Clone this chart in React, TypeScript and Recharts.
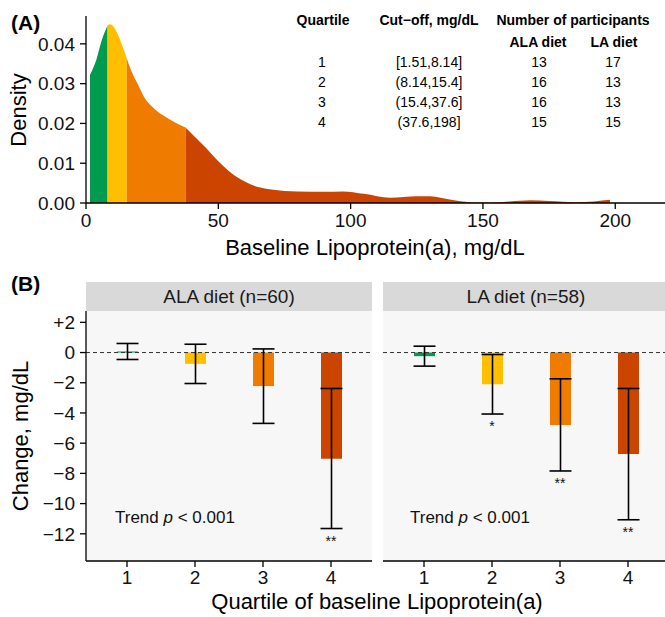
import React from "react";
import {
  ComposedChart,
  Area,
  Bar,
  Line,
  Cell,
  XAxis,
  YAxis,
  ErrorBar,
  ReferenceLine,
  CartesianGrid,
  LabelList,
} from "recharts";

const FONT = "'Liberation Sans', Arial, Helvetica, sans-serif";

// ---- Panel A: density of baseline Lp(a) ----
const lpaX = [1.51, 4, 6, 8.14, 9, 10, 12, 14, 15.4, 17, 20, 22, 25, 27, 30, 33, 37.6, 41, 45, 50, 55, 60, 65, 70, 80, 90, 97, 105, 115, 125, 130, 138, 145, 150, 160, 168, 175, 185, 192, 198];
const lpaDensity = [0.0322, 0.0362, 0.0410, 0.0446, 0.0449, 0.0446, 0.0424, 0.0390, 0.0364, 0.0334, 0.0293, 0.0266, 0.0242, 0.0230, 0.0217, 0.0205, 0.0190, 0.0167, 0.0141, 0.0105, 0.0075, 0.0054, 0.0040, 0.0034, 0.0029, 0.0028, 0.0029, 0.0023, 0.0013, 0.0017, 0.0017, 0.0008, 0.0002, 0.0001, 0.0004, 0.0007, 0.0005, 0.0002, 0.0004, 0.0008];
const cutoffs = [8.14, 15.4, 37.6];
const quartileColors = ["#009B4E", "#FFBE00", "#EF7B00", "#CC4500"];
const densityTicksX = [0, 50, 100, 150, 200];
const densityTicksY = [0, 0.01, 0.02, 0.03, 0.04];

// table
const tableQuartiles = ["1", "2", "3", "4"];
const tableCutoffs = ["[1.51,8.14]", "(8.14,15.4]", "(15.4,37.6]", "(37.6,198]"];
const tableAlaN = [13, 16, 16, 15];
const tableLaN = [17, 13, 13, 15];

// ---- Panel B: change by quartile ----
const quartiles = ["1", "2", "3", "4"];
const alaMean = [0.07, -0.75, -2.22, -7.03];
const alaLow = [-0.46, -2.05, -4.69, -11.65];
const alaHigh = [0.6, 0.55, 0.24, -2.38];
const alaSig = ["", "", "", "**"];
const laMean = [-0.24, -2.1, -4.79, -6.72];
const laLow = [-0.9, -4.07, -7.84, -11.07];
const laHigh = [0.42, -0.13, -1.74, -2.38];
const laSig = ["", "*", "**", "**"];
const changeTicks = [2, 0, -2, -4, -6, -8, -10, -12];

const densityData = lpaX.map((x, i) => {
  const d = lpaDensity[i];
  const eps = 1e-9;
  return {
    x,
    q1: x <= cutoffs[0] + eps ? d : null,
    q2: x >= cutoffs[0] - eps && x <= cutoffs[1] + eps ? d : null,
    q3: x >= cutoffs[1] - eps && x <= cutoffs[2] + eps ? d : null,
    q4: x >= cutoffs[2] - eps ? d : null,
  };
});

const buildPanel = (mean: number[], lo: number[], hi: number[], sig: string[]) =>
  quartiles.map((q, i) => ({
    q,
    mean: mean[i],
    lo: lo[i],
    err: [mean[i] - lo[i], hi[i] - mean[i]],
    sig: sig[i],
  }));

const alaData = buildPanel(alaMean, alaLow, alaHigh, alaSig);
const laData = buildPanel(laMean, laLow, laHigh, laSig);

const tickStyle = { fill: "#111", fontSize: 19, fontFamily: FONT };
const axisLine = { stroke: "#000", strokeWidth: 1.3 };

const fmtChange = (v: number) => (v > 0 ? `+${v}` : v < 0 ? `\u2212${Math.abs(v)}` : "0");

const StarLabel = (p: any) => {
  if (!p.value) return null;
  return (
    <text x={p.x} y={p.y + 17} textAnchor="middle" fontSize={14} fontFamily={FONT} fill="#111">
      {p.value}
    </text>
  );
};

const ChangePanel = ({ data, showY }: { data: any[]; showY: boolean }) => (
  <ComposedChart
    width={showY ? 380 : 286}
    height={317}
    data={data}
    margin={{ top: 11, right: showY ? 8 : 0, bottom: 26, left: 0 }}
  >
    <CartesianGrid fill="#F7F7F7" stroke="none" horizontal={false} vertical={false} />
    <XAxis
      dataKey="q"
      type="category"
      padding={{ left: 7, right: 7 }}
      height={30}
      tick={tickStyle}
      tickSize={6}
      tickMargin={4}
      axisLine={axisLine}
      tickLine={axisLine}
    />
    <YAxis
      hide={!showY}
      width={showY ? 86 : 0}
      type="number"
      domain={[-13.8, 2.75]}
      allowDataOverflow
      ticks={changeTicks}
      tickFormatter={fmtChange}
      tick={tickStyle}
      tickSize={6}
      tickMargin={5}
      axisLine={axisLine}
      tickLine={axisLine}
      interval={0}
    />
    <ReferenceLine y={0} stroke="#333" strokeDasharray="4 3" strokeWidth={1} />
    <Bar dataKey="mean" barSize={21} isAnimationActive={false}>
      {data.map((_, i) => (
        <Cell key={i} fill={quartileColors[i]} />
      ))}
      <ErrorBar dataKey="err" direction="y" width={11} stroke="#000" strokeWidth={1.6} isAnimationActive={false} />
    </Bar>
    <Line dataKey="lo" stroke="none" dot={false} activeDot={false} isAnimationActive={false} legendType="none">
      <LabelList dataKey="sig" content={StarLabel} />
    </Line>
  </ComposedChart>
);

export default function App() {
  return (
    <div
      style={{
        position: "absolute",
        left: 0,
        top: 0,
        width: 665,
        height: 617,
        overflow: "hidden",
        background: "#fff",
        fontFamily: FONT,
      }}
    >
      <div style={{ position: "absolute", left: 0, top: 0 }}>
        <ComposedChart
          width={665}
          height={260}
          data={densityData}
          margin={{ top: 16, right: 0, bottom: 27, left: 0 }}
        >
          <XAxis
            dataKey="x"
            type="number"
            domain={[0, 218.8]}
            allowDataOverflow
            ticks={densityTicksX}
            height={30}
            tick={tickStyle}
            tickSize={6}
            tickMargin={5}
            axisLine={axisLine}
            tickLine={axisLine}
            interval={0}
          />
          <YAxis
            type="number"
            width={86}
            domain={[0, 0.047]}
            allowDataOverflow
            ticks={densityTicksY}
            tickFormatter={(v: number) => v.toFixed(2)}
            tick={tickStyle}
            tickSize={6}
            tickMargin={5}
            axisLine={axisLine}
            tickLine={axisLine}
            interval={0}
          />
          {["q1", "q2", "q3", "q4"].map((k, i) => (
            <Area
              key={k}
              dataKey={k}
              type="monotone"
              stroke="none"
              fill={quartileColors[i]}
              fillOpacity={1}
              dot={false}
              activeDot={false}
              isAnimationActive={false}
            />
          ))}
        </ComposedChart>
      </div>

      <div style={{ position: "absolute", left: 0, top: 300 }}>
        <ChangePanel data={alaData} showY={true} />
      </div>
      <div style={{ position: "absolute", left: 383, top: 300 }}>
        <ChangePanel data={laData} showY={false} />
      </div>

      <svg
        width={665}
        height={617}
        style={{ position: "absolute", left: 0, top: 0, pointerEvents: "none" }}
        fontFamily={FONT}
      >
        <text x={11} y={30} fontSize={21} fontWeight="bold" fill="#000">(A)</text>
        <text x={0} y={0} transform="translate(26,110) rotate(-90)" textAnchor="middle" fontSize={22} fill="#000">
          Density
        </text>
        <text x={375} y={255} textAnchor="middle" fontSize={22} fill="#000">
          Baseline Lipoprotein(a), mg/dL
        </text>

        {/* table */}
        <g fontSize={14} fill="#000">
          <text x={323} y={25} textAnchor="middle" fontWeight="bold">Quartile</text>
          <text x={429} y={25} textAnchor="middle" fontWeight="bold">Cut−off, mg/dL</text>
          <text x={573} y={25} textAnchor="middle" fontWeight="bold">Number of participants</text>
          <text x={538} y={47} textAnchor="middle" fontWeight="bold">ALA diet</text>
          <text x={614} y={47} textAnchor="middle" fontWeight="bold">LA diet</text>
          {tableQuartiles.map((q, i) => (
            <g key={q}>
              <text x={322} y={67 + i * 20} textAnchor="middle">{q}</text>
              <text x={429} y={67 + i * 20} textAnchor="middle">{tableCutoffs[i]}</text>
              <text x={539} y={67 + i * 20} textAnchor="middle">{tableAlaN[i]}</text>
              <text x={613} y={67 + i * 20} textAnchor="middle">{tableLaN[i]}</text>
            </g>
          ))}
        </g>

        <text x={11} y={291} fontSize={21} fontWeight="bold" fill="#000">(B)</text>
        <rect x={86} y={282} width={286} height={29} fill="#D9D9D9" />
        <rect x={383} y={282} width={286} height={29} fill="#D9D9D9" />
        <text x={229} y={303} textAnchor="middle" fontSize={19} fill="#1a1a1a">ALA diet (n=60)</text>
        <text x={526} y={303} textAnchor="middle" fontSize={19} fill="#1a1a1a">LA diet (n=58)</text>
        <text x={0} y={0} transform="translate(28,436) rotate(-90)" textAnchor="middle" fontSize={22} fill="#000">
          Change, mg/dL
        </text>
        <text x={377} y={609} textAnchor="middle" fontSize={22} fill="#000">
          Quartile of baseline Lipoprotein(a)
        </text>
        <text x={115} y={523} fontSize={17} fill="#111">
          Trend <tspan fontStyle="italic">p</tspan> {"< 0.001"}
        </text>
        <text x={410} y={523} fontSize={17} fill="#111">
          Trend <tspan fontStyle="italic">p</tspan> {"< 0.001"}
        </text>
      </svg>
    </div>
  );
}
